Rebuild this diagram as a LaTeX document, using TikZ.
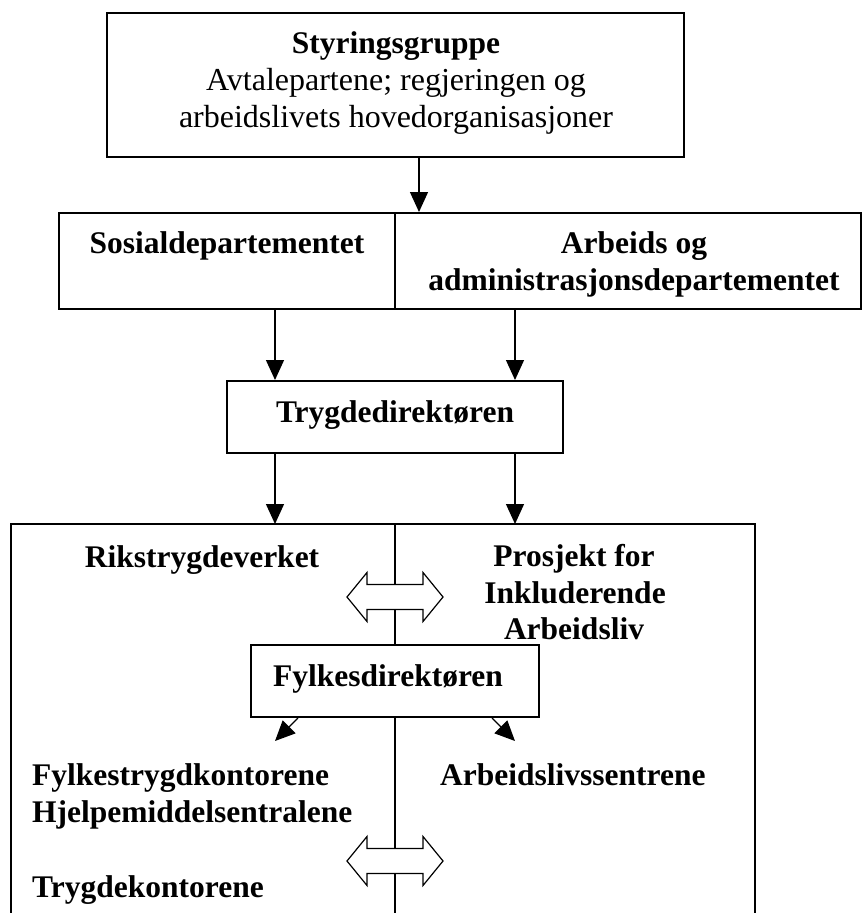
\documentclass[tikz,border=0pt]{standalone}
\usepackage{fontspec}
\setmainfont{Liberation Serif}
\usetikzlibrary{arrows.meta}

\tikzstyle{box}=[draw, line width=2pt, inner sep=0pt, fill=white]
\tikzstyle{lbl}=[inner sep=0pt, anchor=base, font=\fontsize{31.5}{37}\selectfont\bfseries]
\tikzstyle{plain}=[inner sep=0pt, anchor=base, font=\fontsize{32}{37}\selectfont]
\tikzstyle{link}=[line width=1.3pt, -{Triangle[length=20pt,width=18pt]}]
\tikzstyle{split}=[line width=1.3pt]
\tikzstyle{twoway}=[draw, fill=white, line width=1.2pt, line join=miter]

\begin{document}
\begin{tikzpicture}[x=1pt, y=-1pt]
			\useasboundingbox (0,0) rectangle (863,913);
			%The boxes
			\node[box, minimum width=577pt, minimum height=144pt] (steer) at (395.5,85) {};
			\node[box, minimum width=802pt, minimum height=96pt] (dept) at (460,261) {};
			\node[box, minimum width=336pt, minimum height=72pt] (tdir) at (395,417) {};
			%The open frame at the bottom
			\coordinate (frameL) at (11,913);
			\coordinate (frameTL) at (11,524);
			\coordinate (frameTR) at (755,524);
			\coordinate (frameR) at (755,913);
			\draw[line width=2pt] (frameL) -- (frameTL) -- (frameTR) -- (frameR);
			%Dividing lines
			\coordinate (mid) at (395,0);
			\draw[split] (mid |- dept.north) -- (mid |- dept.south);
			\draw[split] (mid |- frameTL) -- (mid |- frameL);
			%Exchange arrows on top of the line
			\coordinate (xchgA) at (395,597);
			\coordinate (xchgB) at (395,861);
			\foreach \c in {xchgA,xchgB}
			\draw[twoway] (\c) ++(-48,0) -- ++(20,-24.5) -- ++(0,12) -- ++(56,0) -- ++(0,-12)
				-- ++(20,24.5) -- ++(-20,24.5) -- ++(0,-12) -- ++(-56,0) -- ++(0,12) -- cycle;
			%The county box
			\node[box, minimum width=288pt, minimum height=72pt] (fdir) at (395,681) {};
			%Texts
			\node[lbl] (steerT) at (396,53) {Styringsgruppe};
			\foreach \pos/\name/\txt in {{(396,90)/steerA/Avtalepartene; regjeringen og},
									{(396,127)/steerB/arbeidslivets hovedorganisasjoner}}
			\node[plain] (\name) at \pos {\txt};
			\foreach \pos/\name/\txt in {{(227,253)/sos/Sosialdepartementet},
									{(634,253)/aadA/Arbeids og},
									{(634,290)/aadB/administrasjonsdepartementet},
									{(395,422)/tdirT/Trygdedirektøren},
									{(202,567)/rtv/Rikstrygdeverket},
									{(574,566)/piaA/Prosjekt for},
									{(575,603)/piaB/Inkluderende},
									{(574,639)/piaC/Arbeidsliv},
									{(388,686)/fdirT/Fylkesdirektøren}}
			\node[lbl] (\name) at \pos {\txt};
			\foreach \pos/\name/\txt in {{(32,785)/ftk/Fylkestrygdkontorene},
									{(32,822)/hms/Hjelpemiddelsentralene},
									{(32,897)/tk/Trygdekontorene},
									{(440,785)/als/Arbeidslivssentrene}}
			\node[lbl, anchor=base west] (\name) at \pos {\txt};
			%Arrows
			\coordinate (colA) at (275,0);
			\coordinate (colB) at (515,0);
			\draw[link] (steer.south -| 419,0) -- (dept.north -| 419,0);
			\draw[link] (colA |- dept.south) -- (colA |- tdir.north);
			\draw[link] (colB |- dept.south) -- (colB |- tdir.north);
			\draw[link] (colA |- tdir.south) -- (colA |- frameTL);
			\draw[link] (colB |- tdir.south) -- (colB |- frameTL);
			\coordinate (downL) at (275,741);
			\coordinate (downR) at (515,741);
			\draw[link] (fdir.south -| 298,0) -- (downL);
			\draw[link] (fdir.south -| 492,0) -- (downR);
		\end{tikzpicture}
\end{document}
